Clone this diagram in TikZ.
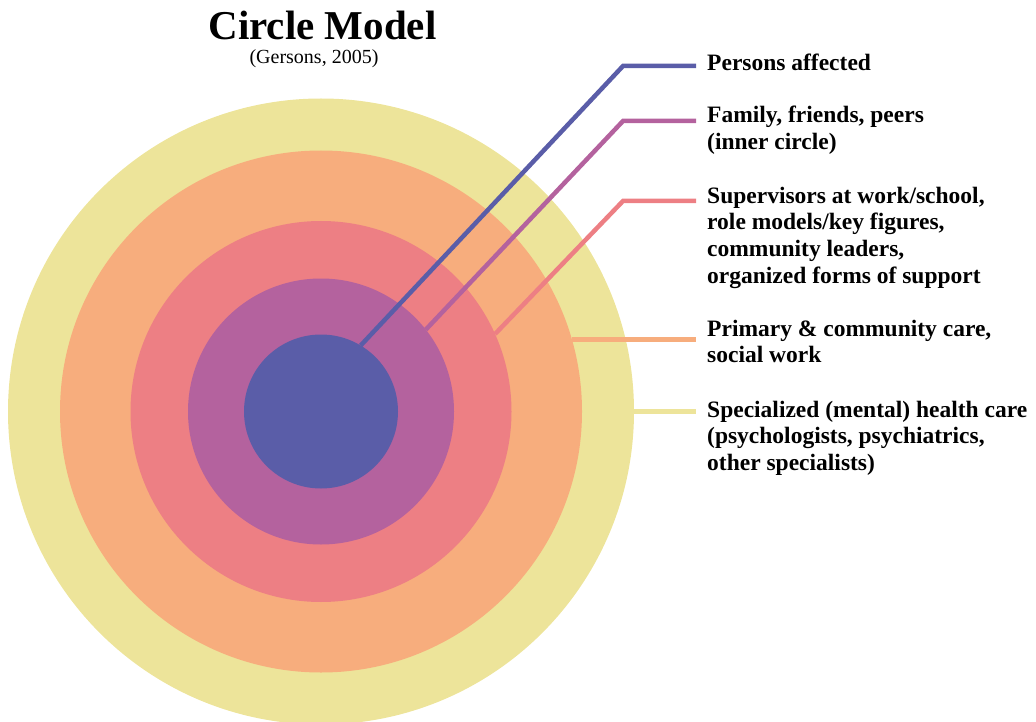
\documentclass[tikz,border=0pt]{standalone}
\usepackage{fontspec}
\setmainfont{Liberation Serif}
\usepackage{xcolor}
\usepackage{tikz}

\definecolor{ringblue}{RGB}{90,93,168}
\definecolor{ringpurple}{RGB}{180,98,158}
\definecolor{ringpink}{RGB}{237,127,132}
\definecolor{ringorange}{RGB}{247,173,125}
\definecolor{ringyellow}{RGB}{237,228,154}

\begin{document}
\begin{tikzpicture}[x=1pt, y=-1pt,
        ringdisc/.style={circle, inner sep=0pt, outer sep=0pt},
        leader/.style={line width=4.5pt},
        ringtext/.style={anchor=base west, inner sep=0pt, align=left, font=\bfseries\fontsize{23.5}{26.7}\selectfont}]
        % Frame
        \useasboundingbox (0,0) rectangle (1036,722);

        % Title
        \node[anchor=base, inner sep=0pt, font=\bfseries\fontsize{41}{45}\selectfont] (title) at (322.5,39.5) {Circle Model};
        \node[anchor=base, inner sep=0pt, font=\fontsize{20}{22}\selectfont] (source) at (314,63.5) {(Gersons, 2005)};

        % Rings
        \node[ringdisc, fill=ringyellow, minimum size=626pt] (specialized) at (321,411.5) {};
        \node[ringdisc, fill=ringorange, minimum size=522pt] (primary) at (321,411.5) {};
        \node[ringdisc, fill=ringpink, minimum size=381pt] (support) at (321,411.5) {};
        \node[ringdisc, fill=ringpurple, minimum size=266pt] (family) at (321,411.5) {};
        \node[ringdisc, fill=ringblue, minimum size=154pt] (persons) at (321,411.5) {};

        % Bends and ends
        \coordinate (personsbend) at (623,66);
        \coordinate (personsend) at (696,66);
        \coordinate (familybend) at (623,121);
        \coordinate (familyend) at (696,121);
        \coordinate (supportbend) at (623,201);
        \coordinate (supportend) at (696,201);
        \coordinate (primaryend) at (696,336.7);
        \coordinate (specializedend) at (696,412.5);

        % Leaders
        \draw[leader, ringblue] (persons.59.6) -- (personsbend) -- (personsend);
        \draw[leader, ringpurple] (family.38.4) -- (familybend) -- (familyend);
        \draw[leader, ringpink] (support.24.7) -- (supportbend) -- (supportend);
        \draw[leader, ringorange] (primary.16.65) -- (primary.16.65 -| primaryend);
        \draw[leader, ringyellow] (specialized.east) -- (specialized.east -| specializedend);

        % Labels (anchored at the last line)
        \node[ringtext] (personstext) at (707,71) {Persons affected};
        \node[ringtext] (familytext) at (707,149.7) {Family, friends, peers\\(inner circle)};
        \node[ringtext] (supporttext) at (707,283.1) {Supervisors at work/school,\\role models/key figures,\\community leaders,\\organized forms of support};
        \node[ringtext] (primarytext) at (707,362.7) {Primary \& community care,\\social work};
        \node[ringtext] (specializedtext) at (707,470.4) {Specialized (mental) health care\\(psychologists, psychiatrics,\\other specialists)};
    \end{tikzpicture}
\end{document}
